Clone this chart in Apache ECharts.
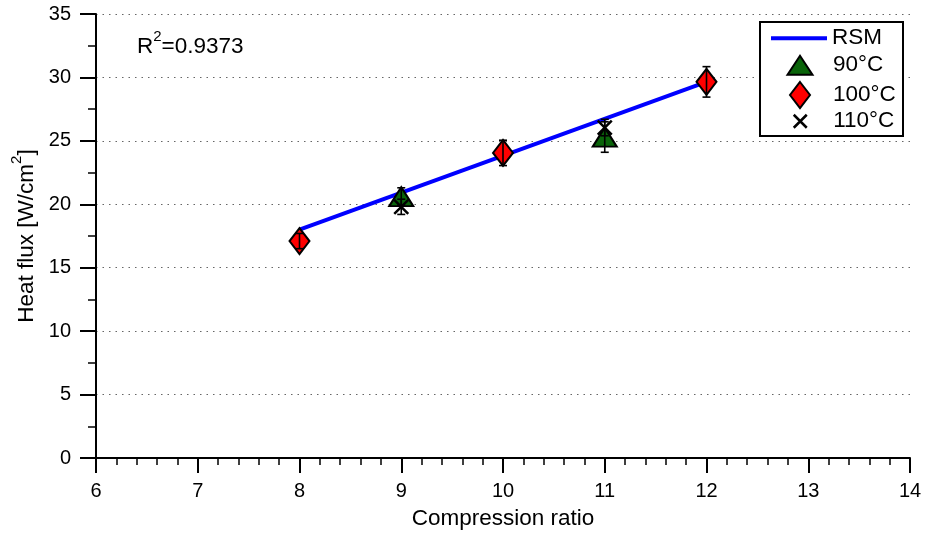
<!DOCTYPE html>
<html><head><meta charset="utf-8">
<script src="https://cdn.jsdelivr.net/npm/echarts@6/dist/echarts.min.js"></script>
<style>html,body{margin:0;padding:0;background:#fff}#c{width:926px;height:535px}</style>
</head><body><div id="c"></div>
<script>
// ---- data ----
const xAxisTitle = 'Compression ratio';
const yAxisTitle = 'Heat flux [W/cm{s|2}]';
const r2Value = '0.9373';
const seriesNames = ['RSM', '90°C', '100°C', '110°C'];
const rsmX = [8, 12];
const rsmY = [18.0, 29.65];
const x90 = [9, 11];
const y90 = [20.6, 25.3];
const e90 = [0.7, 1.2];
const x100 = [8, 10, 12];
const y100 = [17.1, 24.05, 29.65];
const e100 = [0.6, 1.0, 1.2];
const x110 = [9, 11];
const y110 = [19.8, 26.05];
const e110 = [0.6, 0.65];

// ---- chart ----
const FF = '"Liberation Sans", Arial, Helvetica, sans-serif';
const pts = (xs, ys) => xs.map((x, i) => [x, ys[i]]);
const errs = (xs, ys, es) => xs.map((x, i) => [x, ys[i] - es[i], ys[i] + es[i]]);

function errRender(params, api) {
  const x = api.value(0);
  const p1 = api.coord([x, api.value(1)]);
  const p2 = api.coord([x, api.value(2)]);
  const hw = 4;
  const style = { stroke: '#000', lineWidth: 1.6 };
  return { type: 'group', children: [
    { type: 'line', shape: { x1: p1[0], y1: p1[1], x2: p2[0], y2: p2[1] }, style: style },
    { type: 'line', shape: { x1: p1[0] - hw, y1: p1[1], x2: p1[0] + hw, y2: p1[1] }, style: style },
    { type: 'line', shape: { x1: p2[0] - hw, y1: p2[1], x2: p2[0] + hw, y2: p2[1] }, style: style }
  ]};
}

const chart = echarts.init(document.getElementById('c'), null, { renderer: 'canvas' });
const legendBase = {
  padding: 0, itemGap: 0, itemWidth: 56, selectedMode: false,
  textStyle: { fontSize: 22.5, color: '#000', fontFamily: FF }
};
// icon bounding boxes are centred inside the 56px slot; the legend shifts content by that inset
chart.setOption({
  animation: false,
  backgroundColor: '#fff',
  textStyle: { fontFamily: FF },
  grid: { left: 96, right: 16, top: 14, bottom: 76, containLabel: false },
  xAxis: {
    type: 'value', min: 6, max: 14, interval: 1,
    name: xAxisTitle, nameLocation: 'middle', nameGap: 49,
    nameTextStyle: { fontSize: 22.5, color: '#000', fontFamily: FF },
    axisLine: { onZero: false, lineStyle: { color: '#000', width: 2 } },
    axisTick: { length: 15, lineStyle: { color: '#000', width: 2 } },
    minorTick: { show: true, splitNumber: 5, length: 7, lineStyle: { color: '#000', width: 1.5 } },
    axisLabel: { fontSize: 20, color: '#000', margin: 23, fontFamily: FF },
    splitLine: { show: false }
  },
  yAxis: {
    type: 'value', min: 0, max: 35, interval: 5,
    name: yAxisTitle, nameLocation: 'middle', nameGap: 46,
    nameTextStyle: { fontSize: 22.5, color: '#000', fontFamily: FF,
      rich: { s: { fontSize: 15, color: '#000', fontFamily: FF, padding: [0, 0, 18, 0] } } },
    axisLine: { onZero: false, lineStyle: { color: '#000', width: 2 } },
    axisTick: { length: 16, lineStyle: { color: '#000', width: 2 } },
    minorTick: { show: true, splitNumber: 2, length: 8, lineStyle: { color: '#000', width: 1.5 } },
    axisLabel: { fontSize: 20, color: '#000', margin: 25, fontFamily: FF },
    splitLine: { show: true, lineStyle: { type: [1.5, 5], color: '#666', width: 1.2 } }
  },
  legend: [
    Object.assign({}, legendBase, { data: [seriesNames[0]], left: 771, top: 26.75, itemHeight: 4, icon: 'rect' }),
    Object.assign({}, legendBase, { data: [seriesNames[1]], left: 786.5, top: 53.75, itemHeight: 19,
      icon: 'path://M0,19L12.5,0L25,19Z', itemStyle: { borderColor: '#000', borderWidth: 2 } }),
    Object.assign({}, legendBase, { data: [seriesNames[2]], left: 789, top: 81, itemHeight: 26,
      icon: 'path://M10,0L20,13L10,26L0,13Z', itemStyle: { borderColor: '#000', borderWidth: 2 } }),
    Object.assign({}, legendBase, { data: [seriesNames[3]], left: 792.5, top: 109.75, itemHeight: 13,
      icon: 'path://M0,0L13,13M13,0L0,13', itemStyle: { borderColor: '#000', borderWidth: 2.5 } })
  ],
  graphic: [
    { type: 'rect', z: 3, shape: { x: 760, y: 22, width: 143, height: 114 },
      style: { fill: '#fff', stroke: '#000', lineWidth: 2 } },
    { type: 'text', z: 5, x: 137, y: 47,
      style: { text: 'R{s|2}=' + r2Value, fill: '#000', font: '22.5px ' + FF, verticalAlign: 'middle',
        rich: { s: { fontSize: 15, fill: '#000', fontFamily: FF, padding: [0, 0, 20, 0] } } } }
  ],
  series: [
    { name: seriesNames[0], type: 'line', data: pts(rsmX, rsmY), showSymbol: false, symbol: 'none',
      lineStyle: { color: '#0000ff', width: 4 }, itemStyle: { color: '#0000ff' }, z: 2 },
    { name: seriesNames[1], type: 'scatter', data: pts(x90, y90), symbol: 'triangle', symbolSize: [24, 19],
      itemStyle: { color: '#0a640a', borderColor: '#000', borderWidth: 2, opacity: 1 }, z: 3 },
    { name: seriesNames[2], type: 'scatter', data: pts(x100, y100), symbol: 'diamond', symbolSize: [20, 26],
      itemStyle: { color: '#ff0000', borderColor: '#000', borderWidth: 2, opacity: 1 }, z: 3 },
    { name: seriesNames[3], type: 'scatter', data: pts(x110, y110), symbol: 'path://M0,0L13,13M13,0L0,13',
      symbolSize: [14, 14], itemStyle: { color: '#000', borderColor: '#000', borderWidth: 2.5, opacity: 1 }, z: 4 },
    { name: 'err90', type: 'custom', data: errs(x90, y90, e90), renderItem: errRender, z: 5 },
    { name: 'err100', type: 'custom', data: errs(x100, y100, e100), renderItem: errRender, z: 5 },
    { name: 'err110', type: 'custom', data: errs(x110, y110, e110), renderItem: errRender, z: 5 }
  ]
});
</script>
</body></html>
